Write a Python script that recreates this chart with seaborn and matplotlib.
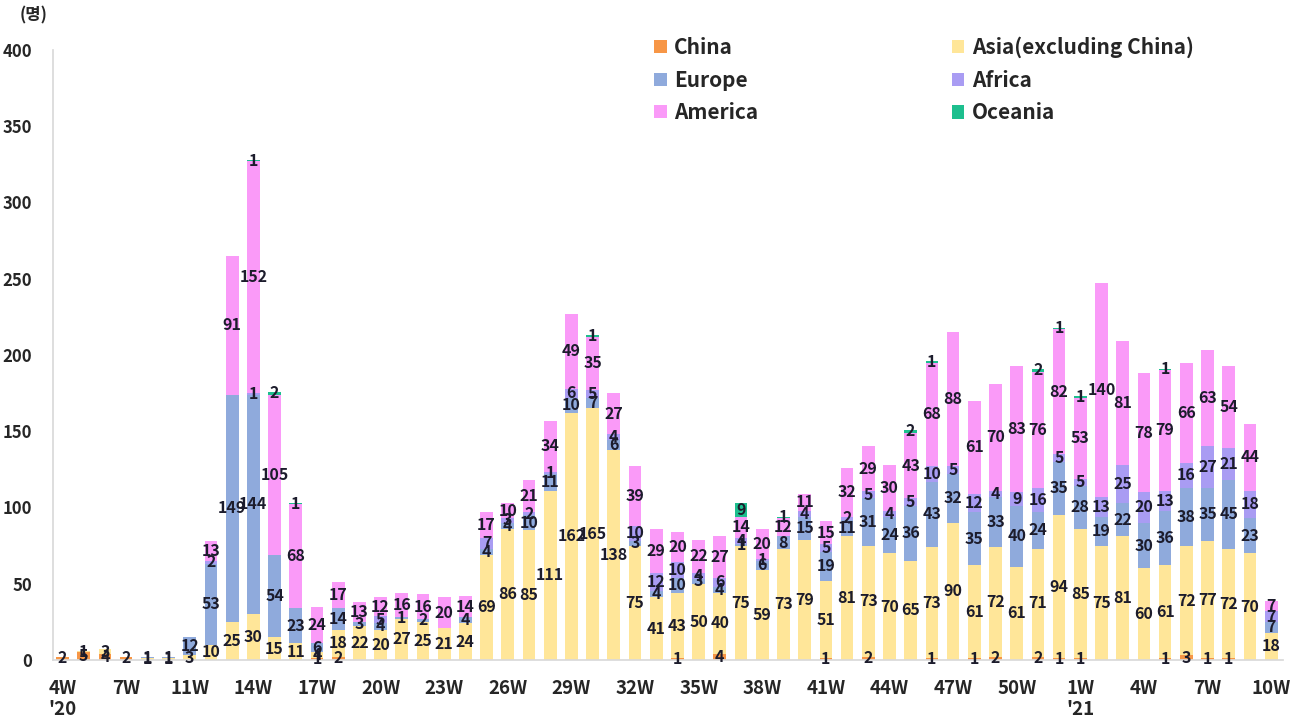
import numpy as np
import pandas as pd
import matplotlib
matplotlib.use("Agg")
import matplotlib.pyplot as plt
import seaborn as sns
from matplotlib.patches import Patch

regions = ["China", "Asia(excluding China)", "Europe", "Africa", "America", "Oceania"]
colors = ["#F79646", "#FFE699", "#8FAADC", "#A99CF3", "#FA9AF8", "#1DBF8E"]

china   = [2, 5, 4, 2, 0, 0, 0, 0, 0, 0, 0, 0, 1, 2, 0, 0, 0, 0, 0, 0,
           0, 0, 0, 0, 0, 0, 0, 0, 0, 1, 0, 4, 0, 0, 0, 0, 1, 0, 2, 0,
           0, 1, 0, 1, 2, 0, 2, 1, 1, 0, 0, 0, 1, 3, 1, 1, 0, 0]
asia    = [0, 1, 3, 0, 1, 1, 3, 10, 25, 30, 15, 11, 4, 18, 22, 20, 27, 25, 21, 24,
           69, 86, 85, 111, 162, 165, 138, 75, 41, 43, 50, 40, 75, 59, 73, 79, 51, 81, 73, 70,
           65, 73, 90, 61, 72, 61, 71, 94, 85, 75, 81, 60, 61, 72, 77, 72, 70, 18]
europe  = [0, 0, 0, 0, 1, 1, 12, 53, 149, 144, 54, 23, 6, 14, 3, 4, 1, 2, 0, 4,
           4, 4, 10, 11, 10, 7, 6, 3, 4, 10, 3, 4, 1, 6, 8, 15, 19, 11, 31, 24,
           36, 43, 32, 35, 33, 40, 24, 35, 28, 19, 22, 30, 36, 38, 35, 45, 23, 7]
africa  = [0, 0, 0, 0, 0, 0, 0, 2, 0, 1, 0, 0, 0, 0, 0, 5, 0, 0, 0, 0,
           7, 3, 2, 1, 6, 5, 4, 10, 12, 10, 4, 6, 4, 1, 0, 4, 5, 2, 5, 4,
           5, 10, 5, 12, 4, 9, 16, 5, 5, 13, 25, 20, 13, 16, 27, 21, 18, 7]
america = [0, 0, 0, 0, 0, 0, 0, 13, 91, 152, 105, 68, 24, 17, 13, 12, 16, 16, 20, 14,
           17, 10, 21, 34, 49, 35, 27, 39, 29, 20, 22, 27, 14, 20, 12, 11, 15, 32, 29, 30,
           43, 68, 88, 61, 70, 83, 76, 82, 53, 140, 81, 78, 79, 66, 63, 54, 44, 7]
oceania = [0, 0, 0, 0, 0, 0, 0, 0, 0, 1, 2, 1, 0, 0, 0, 0, 0, 0, 0, 0,
           0, 0, 0, 0, 0, 1, 0, 0, 0, 0, 0, 0, 9, 0, 1, 0, 0, 0, 0, 0,
           2, 1, 0, 0, 0, 0, 2, 1, 1, 0, 0, 0, 1, 0, 0, 0, 0, 0]

tick_labels = ["4W\n'20", "7W", "11W", "14W", "17W", "20W", "23W", "26W", "29W", "32W",
               "35W", "38W", "41W", "44W", "47W", "50W", "1W\n'21", "4W", "7W", "10W"]

series = [china, asia, europe, africa, america, oceania]
n = len(china)
df = pd.DataFrame({r: s for r, s in zip(regions, series)})
df["idx"] = np.arange(n)
cum = df[regions].cumsum(axis=1)

sns.set_theme(style="white")
plt.rcParams["font.family"] = ["Noto Sans CJK KR", "DejaVu Sans"]

fig = plt.figure(figsize=(13.05, 7.21), dpi=100)
ax = fig.add_axes([0.0406, 0.0846, 0.9424, 0.8461])

# draw cumulative bars from top layer down so lower layers overlay
for r, c in reversed(list(zip(regions, colors))):
    sns.barplot(x=df["idx"], y=cum[r], color=c, saturation=1, width=0.6,
                errorbar=None, ax=ax, linewidth=0)

# value labels at segment centres
for i in range(n):
    base = 0
    for r in regions:
        v = df.loc[i, r]
        if v > 0:
            ax.text(i, base + v / 2, str(v), ha="center", va="center",
                    fontsize=11.5, fontweight="bold", color="#1c1c2c")
        base += v

ax.set_xlim(-0.45, n - 0.45)
ax.set_ylim(0, 400)
ax.set_yticks(np.arange(0, 401, 50))
ax.set_yticklabels([str(v) for v in range(0, 401, 50)], fontsize=12, fontweight="bold")
ax.set_xticks(np.arange(0, n, 3))
ax.set_xticklabels(tick_labels, fontsize=13.5, fontweight="bold", linespacing=1.1)
ax.tick_params(axis="x", length=0, pad=14)
ax.tick_params(axis="y", length=0, pad=15)
ax.set_xlabel("")
ax.set_ylabel("")
for s in ["top", "right"]:
    ax.spines[s].set_visible(False)
ax.spines["left"].set_color("#d9d9d9")
ax.spines["bottom"].set_color("#d9d9d9")

fig.text(0.015, 0.978, "(명)", fontsize=12, fontweight="bold", va="center", ha="left")

handles = [Patch(facecolor=c, edgecolor="none") for c in colors]
order = [0, 2, 4, 1, 3, 5]
fig.legend([handles[k] for k in order], [regions[k] for k in order],
           loc="upper left", bbox_to_anchor=(0.487, 0.975), ncol=2, frameon=False,
           prop={"size": 15, "weight": "bold"}, handlelength=0.6, handleheight=0.6,
           handletextpad=0.35, labelspacing=0.55, columnspacing=9.3)

fig.savefig("out.png", dpi=100)
